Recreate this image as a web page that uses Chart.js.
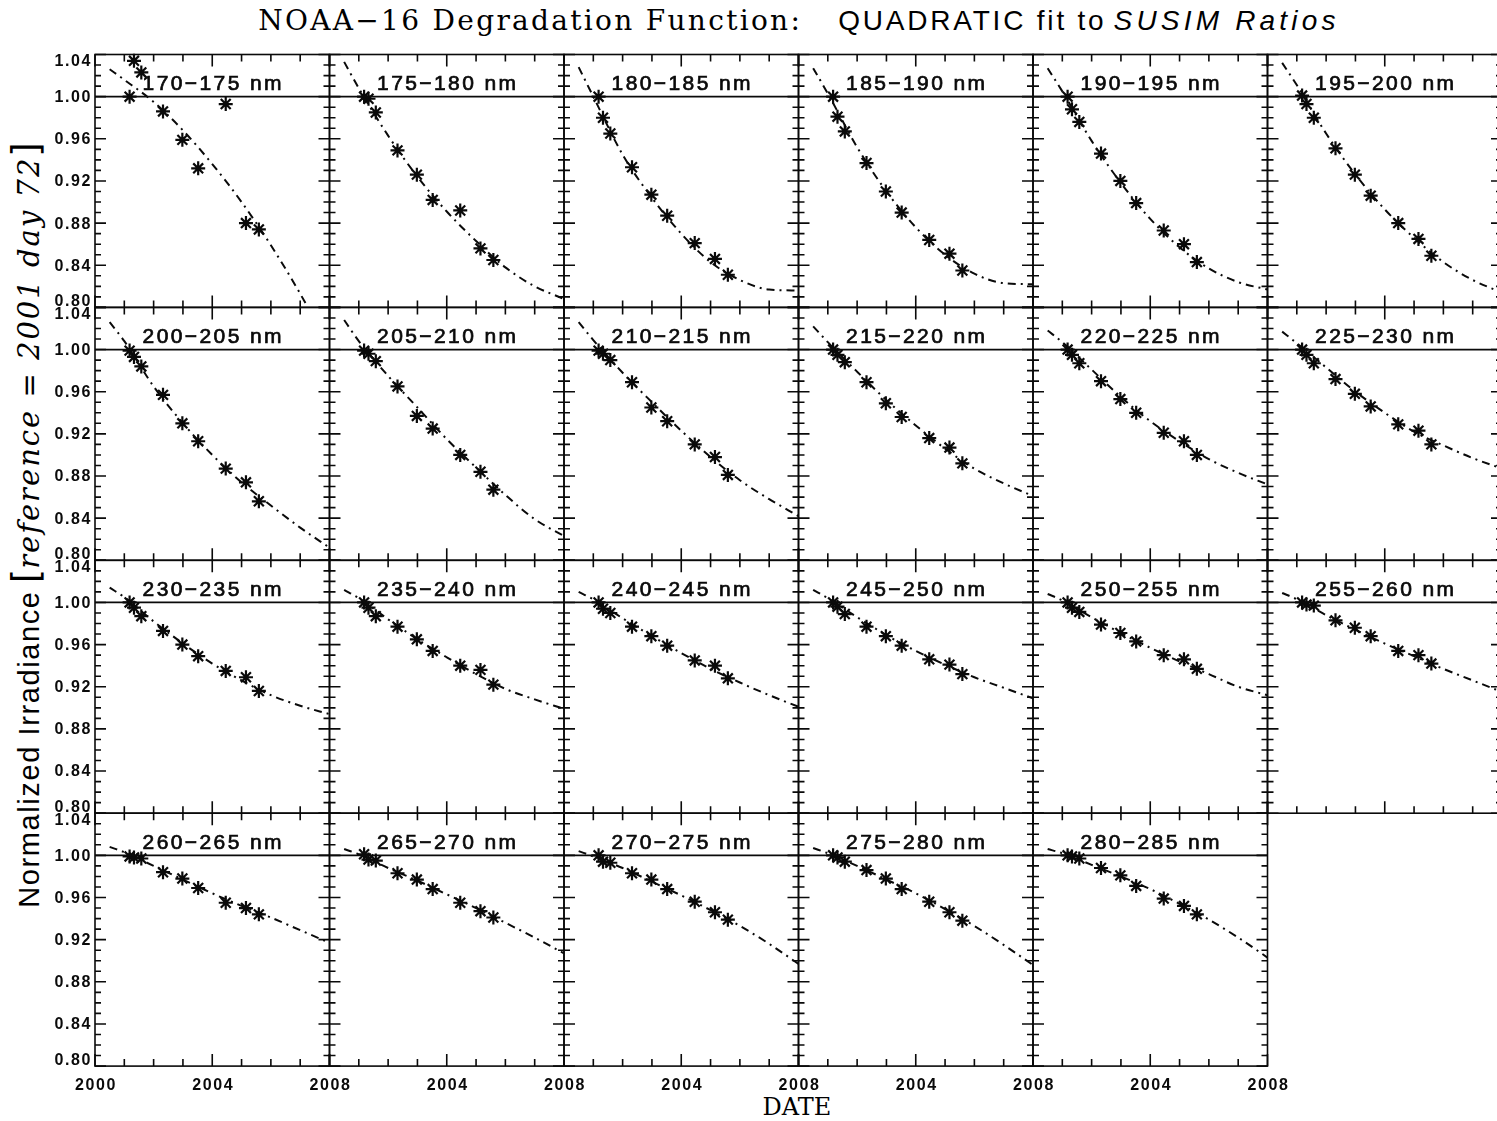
<!DOCTYPE html>
<html>
<head>
<meta charset="utf-8">
<title>NOAA-16 Degradation Function</title>
<script src="https://cdn.jsdelivr.net/npm/chart.js@4/dist/chart.umd.min.js"></script>
<style>
  html, body { margin: 0; padding: 0; background: #fff; }
  body { width: 1497px; height: 1121px; overflow: hidden; position: relative; color: #000; }
  canvas.panel { position: absolute; }
  #title {
    position: absolute; left: 0; top: 5px; width: 1598px; text-align: center;
    white-space: nowrap; line-height: 32px; font-size: 28px;
  }
  #title .serif { font-family: "DejaVu Serif", serif; letter-spacing: 2.3px; margin-right: 36px; }
  #title .sans { font-family: "Liberation Sans", Arial, sans-serif; letter-spacing: 2.8px; }
  #title .it { font-style: italic; letter-spacing: 4.2px; }
  #xtitle {
    position: absolute; left: 0; top: 1094px; width: 1594px; text-align: center;
    font-family: "DejaVu Serif", serif; font-size: 24px; line-height: 26px;
  }
  #ytitle {
    position: absolute; left: 28px; top: 525px; white-space: nowrap;
    transform: translate(-50%, -50%) rotate(-90deg);
    font-size: 29px; line-height: 34px;
  }
  #ytitle .sans { font-family: "Liberation Sans", Arial, sans-serif; letter-spacing: 1.6px; }
  #ytitle .br { font-family: "DejaVu Sans", sans-serif; font-size: 37px; }
  #ytitle .it { font-family: "DejaVu Serif", serif; font-style: italic; letter-spacing: 2px; }
</style>
</head>
<body>
<div id="title"><span class="serif">NOAA−16 Degradation Function:</span><span class="sans">QUADRATIC fit to</span> <span class="sans it">SUSIM Ratios</span></div>
<div id="ytitle"><span class="sans">Normalized Irradiance</span> <span class="br">[</span><span class="it">reference = 2001 day 72</span><span class="br">]</span></div>
<div id="xtitle">DATE</div>

<script>
// ---- axis ranges and tick labels ----
const xMin = 2000, xMax = 2008;
const yMin = 0.80, yMax = 1.04;
const refLevel = 1.00;
const xTickLabels = ['2000', '2004', '2008'];
const yTickLabels = ['0.80', '0.84', '0.88', '0.92', '0.96', '1.00', '1.04'];

// ---- wavelength bands, one panel each ----
const bands = [
  '170−175 nm', '175−180 nm', '180−185 nm', '185−190 nm', '190−195 nm', '195−200 nm',
  '200−205 nm', '205−210 nm', '210−215 nm', '215−220 nm', '220−225 nm', '225−230 nm',
  '230−235 nm', '235−240 nm', '240−245 nm', '245−250 nm', '250−255 nm', '255−260 nm',
  '260−265 nm', '265−270 nm', '270−275 nm', '275−280 nm', '280−285 nm'
];

// SUSIM ratio dates (decimal year)
const dates = [2001.18, 2001.33, 2001.58, 2002.32, 2002.98, 2003.52, 2004.46, 2005.15, 2005.59];

// SUSIM ratios per band, same order as dates
const ratios = [
  [1.000, 1.034, 1.023, 0.986, 0.959, 0.932, 0.993, 0.880, 0.874],
  [1.000, 0.998, 0.985, 0.949, 0.926, 0.902, 0.892, 0.856, 0.845],
  [1.000, 0.980, 0.965, 0.933, 0.907, 0.887, 0.861, 0.846, 0.831],
  [1.000, 0.981, 0.967, 0.937, 0.910, 0.890, 0.864, 0.851, 0.835],
  [1.000, 0.988, 0.976, 0.946, 0.920, 0.899, 0.873, 0.860, 0.843],
  [1.001, 0.993, 0.980, 0.951, 0.926, 0.906, 0.880, 0.865, 0.849],
  [0.999, 0.993, 0.984, 0.957, 0.930, 0.913, 0.887, 0.874, 0.856],
  [0.999, 0.996, 0.989, 0.965, 0.937, 0.925, 0.900, 0.884, 0.867],
  [0.999, 0.996, 0.990, 0.969, 0.945, 0.932, 0.910, 0.898, 0.881],
  [1.000, 0.995, 0.988, 0.969, 0.949, 0.936, 0.916, 0.907, 0.892],
  [1.000, 0.995, 0.987, 0.970, 0.953, 0.940, 0.921, 0.913, 0.900],
  [1.000, 0.995, 0.987, 0.972, 0.958, 0.946, 0.929, 0.923, 0.910],
  [1.000, 0.995, 0.987, 0.973, 0.960, 0.949, 0.935, 0.929, 0.916],
  [1.000, 0.995, 0.987, 0.977, 0.965, 0.954, 0.940, 0.936, 0.922],
  [1.000, 0.994, 0.990, 0.977, 0.968, 0.959, 0.945, 0.940, 0.928],
  [1.000, 0.996, 0.989, 0.977, 0.968, 0.959, 0.946, 0.941, 0.932],
  [1.000, 0.995, 0.991, 0.979, 0.971, 0.963, 0.950, 0.946, 0.937],
  [1.000, 0.998, 0.997, 0.983, 0.976, 0.968, 0.954, 0.950, 0.942],
  [0.999, 0.998, 0.997, 0.984, 0.978, 0.969, 0.955, 0.950, 0.944],
  [1.001, 0.996, 0.995, 0.983, 0.977, 0.968, 0.955, 0.947, 0.941],
  [1.000, 0.994, 0.993, 0.983, 0.977, 0.968, 0.956, 0.946, 0.939],
  [1.000, 0.998, 0.994, 0.986, 0.978, 0.968, 0.956, 0.946, 0.938],
  [1.000, 0.999, 0.997, 0.988, 0.981, 0.971, 0.959, 0.952, 0.944]
];

// quadratic degradation curve, sampled at these years
const fitYears = [2000.5, 2001, 2002, 2003, 2004, 2005, 2006, 2007, 2008];
const fits = [
  [1.026, 1.016, 0.995, 0.968, 0.936, 0.900, 0.859, 0.813, 0.762],
  [1.033, 1.008, 0.963, 0.924, 0.891, 0.863, 0.838, 0.820, 0.808],
  [1.028, 1.000, 0.945, 0.904, 0.870, 0.843, 0.826, 0.817, 0.816],
  [1.027, 1.003, 0.952, 0.910, 0.876, 0.850, 0.832, 0.823, 0.822],
  [1.027, 1.005, 0.958, 0.918, 0.884, 0.857, 0.837, 0.824, 0.817],
  [1.032, 1.011, 0.965, 0.926, 0.893, 0.866, 0.843, 0.826, 0.814],
  [1.026, 1.008, 0.965, 0.930, 0.900, 0.874, 0.852, 0.831, 0.812],
  [1.028, 1.008, 0.975, 0.945, 0.915, 0.888, 0.862, 0.839, 0.823],
  [1.026, 1.009, 0.978, 0.950, 0.923, 0.898, 0.876, 0.858, 0.842],
  [1.022, 1.007, 0.979, 0.952, 0.928, 0.906, 0.887, 0.873, 0.861],
  [1.018, 1.007, 0.981, 0.955, 0.932, 0.913, 0.896, 0.883, 0.872],
  [1.017, 1.006, 0.983, 0.960, 0.940, 0.922, 0.909, 0.897, 0.887],
  [1.014, 1.005, 0.982, 0.961, 0.942, 0.926, 0.912, 0.902, 0.894],
  [1.012, 1.004, 0.984, 0.965, 0.948, 0.932, 0.918, 0.908, 0.899],
  [1.010, 1.003, 0.985, 0.968, 0.952, 0.937, 0.924, 0.912, 0.901],
  [1.012, 1.004, 0.986, 0.969, 0.954, 0.941, 0.929, 0.919, 0.909],
  [1.008, 1.002, 0.986, 0.971, 0.957, 0.944, 0.932, 0.920, 0.912],
  [1.009, 1.003, 0.988, 0.974, 0.961, 0.949, 0.937, 0.926, 0.915],
  [1.008, 1.003, 0.990, 0.977, 0.964, 0.952, 0.941, 0.929, 0.917],
  [1.006, 1.001, 0.988, 0.976, 0.963, 0.950, 0.936, 0.922, 0.907],
  [1.004, 0.999, 0.988, 0.975, 0.962, 0.948, 0.933, 0.916, 0.897],
  [1.007, 1.002, 0.990, 0.977, 0.964, 0.949, 0.933, 0.915, 0.896],
  [1.006, 1.002, 0.991, 0.980, 0.968, 0.954, 0.939, 0.922, 0.903]
];

// ---- page grid ----
const NCOL = 6;
const LEFT0 = 95, TOP0 = 54.5, COL_W = 234.5, ROW_H = 252.9;
const INK = '#0a0a0a';

// IDL-style box: inward ticks on all four sides, labels on the outer panels
const idlAxes = {
  id: 'idlAxes',
  afterDatasetsDraw(chart, args, o) {
    const { ctx, chartArea: a } = chart;
    const xs = chart.scales.x, ys = chart.scales.y;
    ctx.save();
    ctx.strokeStyle = INK;
    ctx.lineWidth = 1.6;
    ctx.beginPath();
    for (let yr = xMin; yr <= xMax; yr++) {
      const px = xs.getPixelForValue(yr);
      const len = yr % 4 === 0 ? 12 : 7;
      ctx.moveTo(px, a.bottom); ctx.lineTo(px, a.bottom - len);
      ctx.moveTo(px, a.top); ctx.lineTo(px, a.top + len);
    }
    for (let k = 80; k <= 104; k++) {
      const py = ys.getPixelForValue(k / 100);
      const len = (k - 80) % 4 === 0 ? 11 : 6;
      ctx.moveTo(a.left, py); ctx.lineTo(a.left + len, py);
      ctx.moveTo(a.right, py); ctx.lineTo(a.right - len, py);
    }
    ctx.stroke();
    ctx.strokeRect(a.left, a.top, a.right - a.left, a.bottom - a.top);

    ctx.fillStyle = INK;
    ctx.font = 'bold 16px "Liberation Sans", Arial, sans-serif';
    ctx.letterSpacing = '1.6px';
    if (o.yLabels) {
      ctx.textAlign = 'right';
      ctx.textBaseline = 'middle';
      yTickLabels.forEach(lbl => {
        const v = Number(lbl);
        const shift = v === yMax ? 6 : (v === yMin ? -7 : 0);
        ctx.fillText(lbl, a.left - 3, ys.getPixelForValue(v) + shift + 1);
      });
    }
    if (o.xLabels) {
      ctx.textAlign = 'center';
      ctx.textBaseline = 'middle';
      xTickLabels.forEach(lbl => {
        if (Number(lbl) === xMin && !o.firstX) return;
        ctx.fillText(lbl, xs.getPixelForValue(Number(lbl)) + 1, a.bottom + 19);
      });
    }

    // band name, regular face thickened a little with a thin outline
    ctx.font = '21px "Liberation Sans", Arial, sans-serif';
    ctx.letterSpacing = '2.4px';
    ctx.textAlign = 'center';
    ctx.textBaseline = 'alphabetic';
    ctx.lineWidth = 0.7;
    const bx = (a.left + a.right) / 2 + 1, by = a.top + 35.5;
    ctx.fillText(o.band, bx, by);
    ctx.strokeText(o.band, bx, by);
    ctx.restore();
  }
};

const lastRow = Math.floor((bands.length - 1) / NCOL);

bands.forEach((band, i) => {
  const col = i % NCOL, row = Math.floor(i / NCOL);
  const pl = LEFT0 + col * COL_W, pt = TOP0 + row * ROW_H;
  const padL = col === 0 ? 80 : 12, padR = 32, padT = 12;
  const padB = row === lastRow ? 40 : 12;
  const left = Math.floor(pl) - padL, top = Math.floor(pt) - padT;
  const offL = pl - left, offT = pt - top;
  const w = Math.ceil(offL + COL_W + padR), h = Math.ceil(offT + ROW_H + padB);

  const cv = document.createElement('canvas');
  cv.className = 'panel';
  cv.width = w; cv.height = h;
  cv.style.left = left + 'px'; cv.style.top = top + 'px';
  cv.style.width = w + 'px'; cv.style.height = h + 'px';
  document.body.appendChild(cv);

  new Chart(cv.getContext('2d'), {
    type: 'scatter',
    data: {
      datasets: [
        {   // reference level
          data: [{ x: xMin, y: refLevel }, { x: xMax, y: refLevel }],
          showLine: true, borderColor: INK, borderWidth: 1.8, pointRadius: 0, clip: 0
        },
        {   // quadratic fit
          data: fitYears.map((yr, j) => ({ x: yr, y: fits[i][j] })),
          showLine: true, borderColor: INK, borderWidth: 2,
          borderDash: [8, 5, 2, 5], pointRadius: 0,
          cubicInterpolationMode: 'monotone', clip: 0
        },
        {   // SUSIM ratios
          data: dates.map((d, j) => ({ x: d, y: ratios[i][j] })),
          showLine: false, pointStyle: 'star', pointRadius: 7,
          pointBorderColor: INK, pointBorderWidth: 2.2,
          pointBackgroundColor: 'transparent', clip: false
        }
      ]
    },
    options: {
      responsive: false,
      animation: false,
      devicePixelRatio: 1,
      events: [],
      layout: { padding: { left: offL, top: offT, right: w - offL - COL_W, bottom: h - offT - ROW_H } },
      scales: {
        x: { type: 'linear', min: xMin, max: xMax, display: false },
        y: { type: 'linear', min: yMin, max: yMax, display: false }
      },
      plugins: {
        legend: { display: false },
        tooltip: { enabled: false },
        idlAxes: { band, yLabels: col === 0, xLabels: row === lastRow, firstX: col === 0 }
      }
    },
    plugins: [idlAxes]
  });
});
</script>
</body>
</html>
